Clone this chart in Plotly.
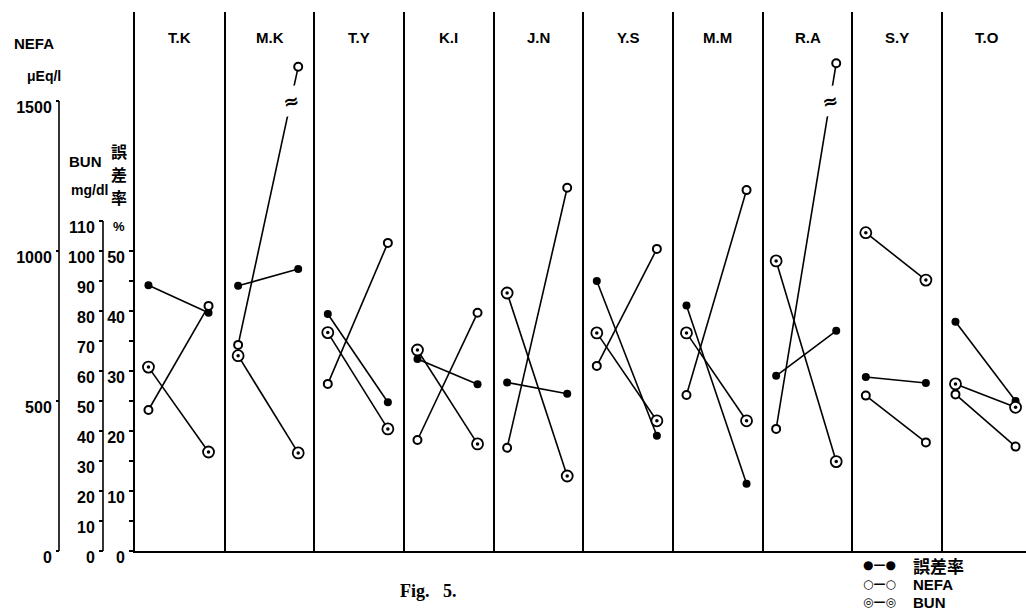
import plotly.graph_objects as go

# ---------------- data ----------------
subjects = ["T.K", "M.K", "T.Y", "K.I", "J.N", "Y.S", "M.M", "R.A", "S.Y", "T.O"]

# 誤差率 (%)
err_before = [44.3, 44.2, 39.5, 32.0, 28.1, 45.0, 40.9, 29.2, 29.0, 38.2]
err_after = [39.7, 47.0, 24.8, 27.8, 26.2, 19.2, 11.2, 36.7, 28.0, 25.0]

# NEFA (μEq/l); M.K and R.A "after" values are drawn above an axis break
nefa_before = [470, 687, 557, 370, 344, 617, 520, 407, 518, 522]
nefa_after = [817, 1614, 1027, 794, 1211, 1007, 1203, 1626, 362, 348]
nefa_broken = [False, True, False, False, False, False, False, True, False, False]
nefa_break_level = 1500

# BUN (mg/dl)
bun_before = [61.3, 65.1, 72.8, 67.0, 86.0, 72.7, 72.7, 96.7, 106.1, 55.7]
bun_after = [33.0, 32.7, 40.7, 35.7, 25.0, 43.4, 43.4, 29.8, 90.3, 47.9]

# axis ticks
nefa_ticks = [0, 500, 1000, 1500]
bun_ticks = list(range(0, 111, 10))
err_ticks = list(range(0, 51, 5))
err_ticktext = [str(v) if v % 10 == 0 else "" for v in err_ticks]

# ---------------- geometry / style ----------------
W, H = 1026, 611
TOP, BOT = 12, 551                 # plot area in px
PLOT_H = BOT - TOP
NEFA_MAX = PLOT_H / 0.3            # 0.3 px per NEFA unit
X_LEFT_PX = 135
PANEL_W = 89.67
XL, XR = 0.15, 0.82                # positions of the two points within a panel
n = len(subjects)


def px_x(p):
    return p / W


def px_y(p):
    return (BOT - p) / PLOT_H


def seg_xy(before, after):
    xs, ys = [], []
    for i, (a, b) in enumerate(zip(before, after)):
        xs += [i + XL, i + XR, None]
        ys += [a, b, None]
    return xs, ys


fig = go.Figure()
line_style = dict(color="black", width=1.6)

# 誤差率
x, y = seg_xy(err_before, err_after)
fig.add_trace(go.Scatter(x=x, y=y, mode="lines+markers", yaxis="y", line=line_style,
                         marker=dict(symbol="circle", size=8, color="black"),
                         name="誤差率", showlegend=False))
# NEFA
x, y = seg_xy(nefa_before, nefa_after)
fig.add_trace(go.Scatter(x=x, y=y, mode="lines+markers", yaxis="y3", line=line_style,
                         marker=dict(symbol="circle", size=8, color="white",
                                     line=dict(color="black", width=2)),
                         name="NEFA", showlegend=False))
# BUN
x, y = seg_xy(bun_before, bun_after)
fig.add_trace(go.Scatter(x=x, y=y, mode="lines+markers", yaxis="y2", line=line_style,
                         marker=dict(symbol="circle", size=11, color="white",
                                     line=dict(color="black", width=1.8)),
                         name="BUN", showlegend=False))
fig.add_trace(go.Scatter(x=x, y=y, mode="markers", yaxis="y2",
                         marker=dict(symbol="circle", size=3.5, color="black"),
                         hoverinfo="skip", showlegend=False))

tickfont = dict(family="Liberation Sans", size=16, color="black", weight="bold")

fig.update_layout(
    width=W, height=H,
    margin=dict(l=0, r=0, t=TOP, b=H - BOT),
    paper_bgcolor="white", plot_bgcolor="white",
    showlegend=False,
    xaxis=dict(domain=[px_x(X_LEFT_PX), 1], range=[0, (W - X_LEFT_PX) / PANEL_W],
               tickvals=list(range(n)), showticklabels=False, ticks="",
               showgrid=True, gridcolor="black", gridwidth=1.6,
               showline=True, linecolor="black", linewidth=2, zeroline=False,
               automargin=False),
    yaxis=dict(range=[0, NEFA_MAX / 20], tickvals=err_ticks, ticktext=err_ticktext,
               ticks="outside", ticklen=4, tickwidth=1.5, tickcolor="black",
               showline=True, linecolor="black", linewidth=1.6,
               showgrid=False, zeroline=False, tickfont=tickfont,
               ticklabelshift=6, ticklabelstandoff=1, automargin=False),
    yaxis2=dict(range=[0, NEFA_MAX / 10], tickvals=bun_ticks, overlaying="y",
                anchor="free", position=px_x(103), side="left",
                ticks="outside", ticklen=4, tickwidth=1.5, tickcolor="black",
                showline=False, showgrid=False, zeroline=False, tickfont=tickfont,
                ticklabelshift=6, ticklabelstandoff=1, automargin=False),
    yaxis3=dict(range=[0, NEFA_MAX], tickvals=nefa_ticks, overlaying="y",
                anchor="free", position=px_x(59), side="left",
                ticks="outside", ticklen=3, tickwidth=1.5, tickcolor="black",
                showline=False, showgrid=False, zeroline=False, tickfont=tickfont,
                ticklabelshift=6, ticklabelstandoff=1, automargin=False),
)

# partial axis lines for BUN and NEFA
fig.add_shape(type="line", xref="paper", yref="y2", x0=px_x(103), x1=px_x(103),
              y0=0, y1=bun_ticks[-1], line=dict(color="black", width=1.6))
fig.add_shape(type="line", xref="paper", yref="y3", x0=px_x(59), x1=px_x(59),
              y0=0, y1=nefa_ticks[-1], line=dict(color="black", width=1.6))


def text_at(px, py, text, font, xanchor="center", height=None):
    fig.add_annotation(x=px_x(px), y=px_y(py), xref="paper", yref="paper", text=text,
                       showarrow=False, xanchor=xanchor, yanchor="middle", font=font,
                       height=height)


# panel labels
for i, s in enumerate(subjects):
    fig.add_annotation(x=i + 0.5, y=px_y(38), xref="x", yref="paper", text=s,
                       showarrow=False, xanchor="center", yanchor="middle",
                       font=dict(family="Liberation Sans", size=15, color="black", weight="bold"))

# axis break marks (≈) on the broken NEFA segments
for i, br in enumerate(nefa_broken):
    if br:
        t = (nefa_break_level - nefa_before[i]) / (nefa_after[i] - nefa_before[i])
        xb = i + XL + t * (XR - XL)
        fig.add_annotation(x=xb, y=nefa_break_level, xref="x", yref="y3", text="≈",
                           showarrow=False, xanchor="center", yanchor="middle",
                           bgcolor="white", borderpad=3, textangle=-12,
                           font=dict(family="DejaVu Sans", size=19, color="black", weight="bold"))

# axis titles
lab = dict(family="Liberation Sans", color="black", weight="bold")
text_at(12, 43, "NEFA", dict(size=15, **lab), "left")
text_at(25, 76, "μEq/l", dict(size=14, **lab), "left")
text_at(67, 162, "BUN", dict(size=15, **lab), "left")
text_at(69, 190, "mg/dl", dict(size=14, **lab), "left")
for ch, py in zip("誤差率", [151, 174, 197]):
    text_at(119, py, ch, dict(family="Noto Sans CJK JP", size=16, color="black", weight="bold"),
            height=20)
text_at(119, 226, "%", dict(size=13, **lab))

# legend (drawn as text)
leg_font_j = dict(family="Noto Sans CJK JP", size=17, color="black", weight="bold")
leg_font_l = dict(family="Liberation Sans", size=15, color="black", weight="bold")
rows = [("●—●", "誤差率", 565, leg_font_j), ("○—○", "NEFA", 584, leg_font_l),
        ("◎—◎", "BUN", 602, leg_font_l)]
for sym, txt, py, f in rows:
    text_at(861, py, sym, dict(family="DejaVu Sans", size=12, color="black", weight="bold"), "left")
    text_at(911, py, txt, f, "left")

# caption
text_at(428, 591, "Fig.   5.",
        dict(family="Liberation Serif", size=18, color="black", weight="bold"))

fig.write_html("out.html", config={"displayModeBar": False},
               post_script="document.body.style.margin='0px';")
